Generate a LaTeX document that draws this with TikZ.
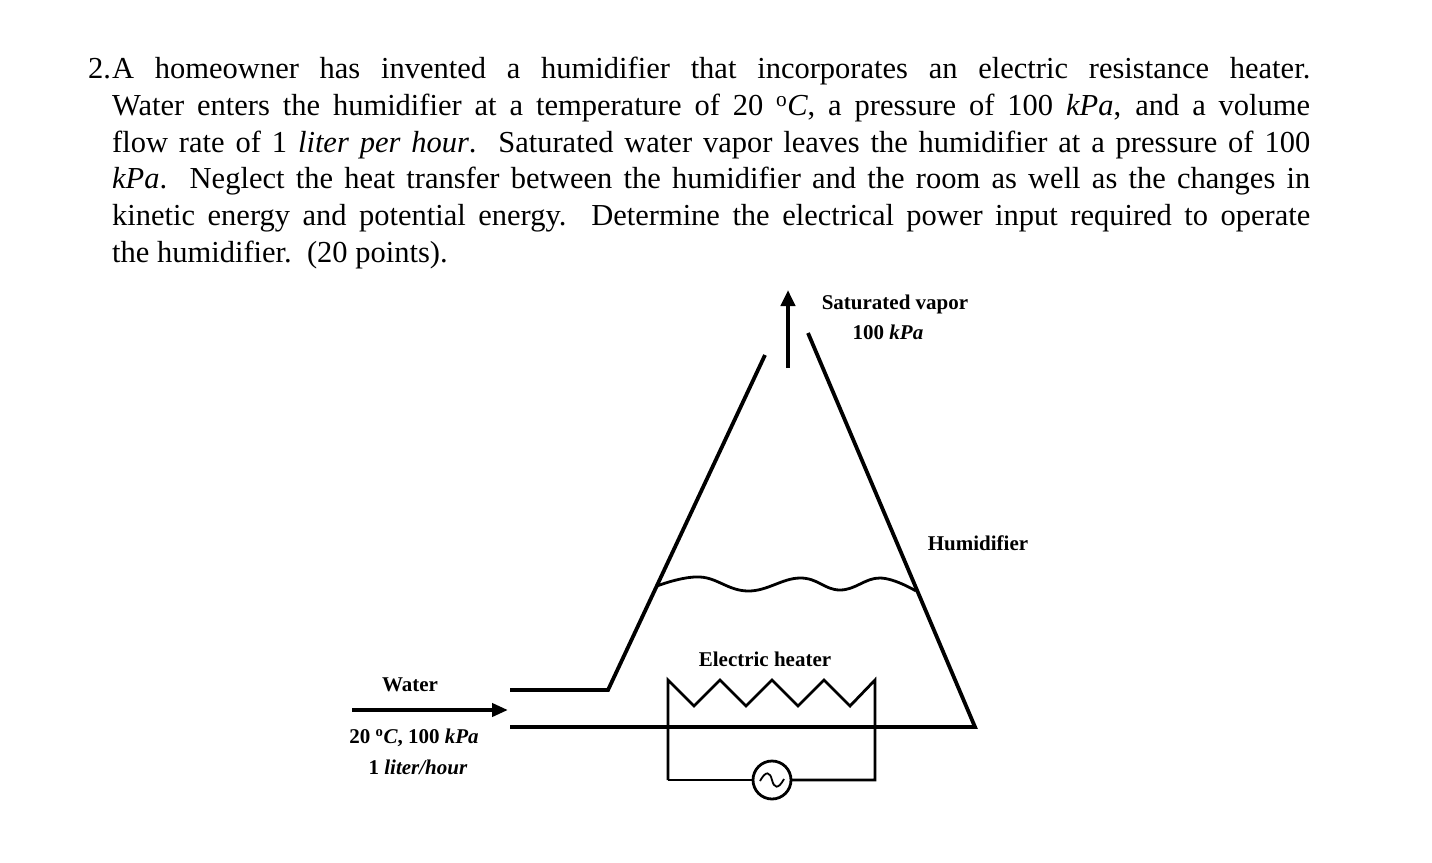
\documentclass[tikz,border=0pt]{standalone}
\usepackage{fontspec}
\setmainfont{Liberation Serif}
\usetikzlibrary{arrows.meta}
\begin{document}
\begin{tikzpicture}[x=1pt,y=-1pt,
  ln/.style={line width=3.8pt,line join=miter},
  thin/.style={line width=2.8pt},
  lbl/.style={font=\fontsize{21}{24}\selectfont\bfseries,inner sep=0pt,align=center}]
\useasboundingbox (0,0) rectangle (1432,862);
% problem text
\node[anchor=north west,inner sep=0pt] (num) at (88,53) {\fontsize{30.5}{36.7}\selectfont\strut 2.};
\node[anchor=north west,inner sep=0pt,text width=1198pt,align=justify] (txt) at (112,53) {\fontsize{30.5}{36.7}\selectfont\strut
A homeowner has invented a humidifier that incorporates an electric resistance heater.\linebreak
Water enters the humidifier at a temperature of 20 \textsuperscript{o}\textit{C}, a pressure of 100 \textit{kPa}, and a volume\linebreak
flow rate of 1 \textit{liter per hour}.\ \ Saturated water vapor leaves the humidifier at a pressure of 100\linebreak
\textit{kPa}.\ \ Neglect the heat transfer between the humidifier and the room as well as the changes in\linebreak
kinetic energy and potential energy.\ \ Determine the electrical power input required to operate\linebreak
the humidifier.\ \ (20 points).\par};
% vessel
\coordinate (inL) at (510,690);
\coordinate (kink) at (608,690);
\coordinate (topL) at (765,355);
\coordinate (topR) at (808,333);
\coordinate (botR) at (975,727);
\coordinate (inB) at (510,727);
\draw[ln] (inL) -- (kink) -- (topL);
\draw[ln] (topR) -- (botR) -- (inB);
% outlet arrow
\coordinate (o1) at (788,368);
\coordinate (o2) at (788,290);
\draw[line width=4.5pt,-{Triangle[width=14pt,length=16pt]}] (o1) -- (o2);
% water surface
\draw[thin] plot[smooth,tension=0.7] coordinates {(657,586) (700,577) (748,591) (800,578) (840,590) (880,578) (916,591)};
% inlet arrow
\coordinate (w1) at (352,710);
\coordinate (w2) at (508,710);
\draw[line width=4pt,-{Triangle[width=13pt,length=16pt]}] (w1) -- (w2);
% heater
\draw[thin] (668,780) -- (668,680) -- (694,706) -- (720,680) -- (746,706) -- (772,680) -- (798,706) -- (824,680) -- (850,706) -- (875,680) -- (875,780) -- (791,780);
\draw[thin] (668,780) -- (753,780);
\node[circle,draw,line width=2.8pt,minimum size=38pt,inner sep=0pt] (src) at (772,780) {};
\draw[line width=1.8pt] (760,781) .. controls (766,770) and (770,772) .. (772,780) .. controls (774,788) and (778,790) .. (784,779);
% labels
\node[lbl] (sv) at (895,304) {Saturated vapor};
\node[lbl] (sp) at (888,332) {100 \textit{kPa}};
\node[lbl] (hu) at (978,543) {Humidifier};
\node[lbl] (eh) at (765,659) {Electric heater};
\node[lbl] (wa) at (410,685) {Water};
\node[lbl] (wt) at (414,738) {20 \textsuperscript{o}\textit{C}, 100 \textit{kPa}};
\node[lbl] (wf) at (418,767) {1 \textit{liter/hour}};
\end{tikzpicture}
\end{document}
